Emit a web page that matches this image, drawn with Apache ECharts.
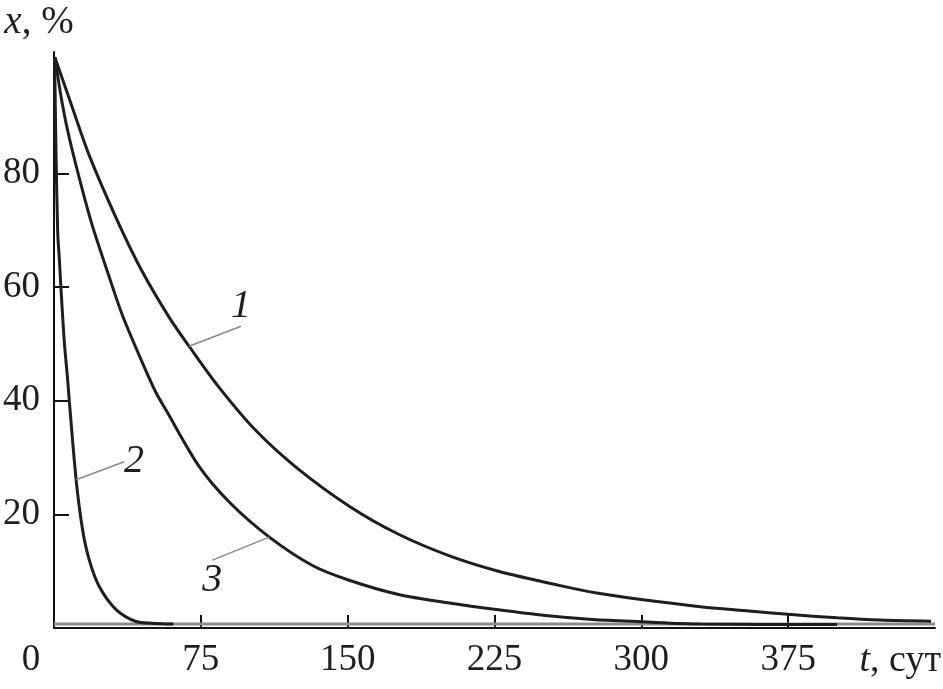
<!DOCTYPE html>
<html>
<head>
<meta charset="utf-8">
<script src="https://cdn.jsdelivr.net/npm/echarts@6/dist/echarts.min.js"></script>
<style>html,body{margin:0;padding:0;background:#fff}#c{width:943px;height:689px}</style>
</head>
<body>
<div id="c"></div>
<script>
// Curve 1 (t, x%)
const curve1T = [0.4, 8, 18, 32, 45, 59, 69, 84, 103, 124, 151, 176, 202, 227, 258, 278, 300, 329, 355, 375, 400, 422, 448];
const curve1X = [100.5, 93, 83.2, 72, 62.8, 54.6, 49.6, 42.5, 34.8, 28.2, 21.4, 16.5, 12.7, 10, 7.5, 6.1, 5, 3.8, 3, 2.4, 1.8, 1.4, 1.2];
// Curve 2
const curve2T = [0.3, 1.07, 1.9, 2.75, 3.6, 5.3, 7, 7.85, 11.3, 14.6, 18, 23.1, 31.7, 41.9, 50, 61];
const curve2X = [100.5, 82.9, 69.6, 64.8, 59.5, 50.2, 43.6, 39.8, 26.1, 17.3, 12, 7.3, 3.25, 1.14, 0.85, 0.7];
// Curve 3
const curve3T = [0.4, 4.4, 8, 14.6, 19.7, 28, 35, 43.5, 52, 57, 74, 90, 110, 132, 150, 176, 202, 227, 251, 275, 300, 330, 400];
const curve3X = [100.5, 92, 86, 77, 70.7, 62, 55, 48, 41.5, 38.5, 28.5, 22, 16, 11, 8.5, 5.9, 4.4, 3.2, 2.2, 1.5, 1.1, 0.7, 0.6];
// Gray asymptote line
const baseT = [0, 450];
const baseX = [0.7, 0.7];
// Ticks / labels
const xTicks = [75, 150, 225, 300, 375];
const xLabels = [0, 75, 150, 225, 300, 375];
const yTicks = [20, 40, 60, 80];
// Curve labels and index of the point carrying each leader line
const curveNames = ['1', '2', '3'];
const labelIdx = [6, 8, 12];

function build(ts, xs, li, name) {
  return ts.map((t, i) => {
    if (i === li) {
      return {
        value: [t, xs[i]],
        label: { show: true, formatter: name },
        labelLine: { show: true }
      };
    }
    return [t, xs[i]];
  });
}

const font = 'Liberation Serif, Times New Roman, serif';
const ink = '#1e1e1e';
const curveStyle = { color: ink, width: 3 };
const lbl = {
  show: false, position: 'inside', fontFamily: font, fontStyle: 'italic',
  fontSize: 40, color: ink
};
const lblLine = { show: true, lineStyle: { color: '#888', width: 1.5 } };

function curveSeries(ts, xs, k, layout) {
  return {
    type: 'line', data: build(ts, xs, labelIdx[k], curveNames[k]),
    showSymbol: true, symbol: 'circle', symbolSize: 0.01,
    itemStyle: { color: ink },
    smooth: 0.3, lineStyle: curveStyle, label: lbl, labelLine: lblLine,
    labelLayout: layout, z: 2
  };
}

const chart = echarts.init(document.getElementById('c'), null, { renderer: 'canvas' });
chart.setOption({
  animation: false,
  backgroundColor: '#fff',
  grid: { left: 54, right: 8, top: 52, bottom: 61, containLabel: false, outerBoundsMode: 'none' },
  xAxis: {
    type: 'value', min: 0, max: 450,
    axisLine: { show: true, onZero: false, lineStyle: { color: '#111', width: 2 } },
    axisTick: { show: true, inside: true, length: 13, customValues: xTicks, lineStyle: { color: '#111', width: 2 } },
    axisLabel: {
      customValues: xLabels, margin: 14, fontFamily: font, fontSize: 37, color: ink,
      formatter: v => v === 0 ? '{z|0}' : String(v),
      rich: { z: { fontFamily: font, fontSize: 37, color: ink, padding: [0, 46, 0, 0] } }
    },
    splitLine: { show: false },
    name: '{i|t}, сут',
    nameLocation: 'end', nameGap: 6,
    nameTextStyle: {
      align: 'right', verticalAlign: 'top', padding: [14, 0, 0, 0],
      fontFamily: font, fontSize: 38, color: ink,
      rich: { i: { fontFamily: font, fontSize: 38, fontStyle: 'italic', color: ink } }
    }
  },
  yAxis: {
    type: 'value', min: 0, max: 101.4,
    axisLine: { show: true, onZero: false, lineStyle: { color: '#111', width: 2 } },
    axisTick: { show: true, inside: true, length: 15, customValues: yTicks, lineStyle: { color: '#111', width: 2 } },
    axisLabel: { customValues: yTicks, margin: 14, fontFamily: font, fontSize: 37, color: ink },
    splitLine: { show: false },
    name: '{i|x}, %',
    nameLocation: 'end', nameGap: 10,
    nameTextStyle: {
      align: 'center', verticalAlign: 'bottom', padding: [0, 30, 0, 0],
      fontFamily: font, fontSize: 39, color: ink,
      rich: { i: { fontFamily: font, fontSize: 39, fontStyle: 'italic', color: ink } }
    }
  },
  series: [
    {
      type: 'line', data: baseT.map((t, i) => [t, baseX[i]]), showSymbol: false,
      lineStyle: { color: '#8c8c8c', width: 3 }, z: 1, silent: true
    },
    curveSeries(curve1T, curve1X, 0, { dx: 52, dy: -40 }),
    curveSeries(curve2T, curve2X, 1, { dx: 58, dy: -18 }),
    curveSeries(curve3T, curve3X, 2, { dx: -57, dy: 43 })
  ]
});
</script>
</body>
</html>
